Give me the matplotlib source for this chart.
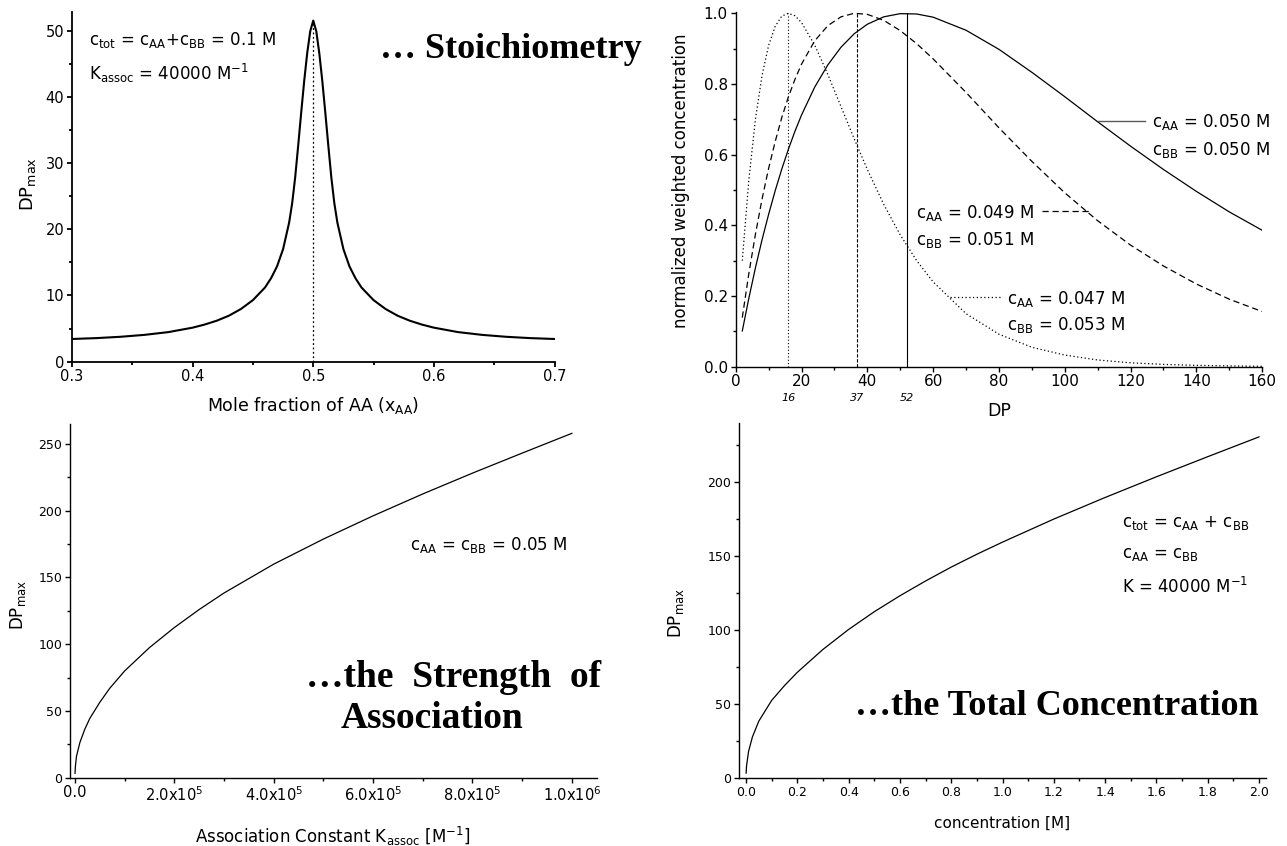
import matplotlib
matplotlib.use("Agg")
import matplotlib.pyplot as plt
from matplotlib.ticker import MultipleLocator, FixedLocator, FixedFormatter
from matplotlib.transforms import blended_transform_factory

plt.rcParams["font.family"] = "DejaVu Sans"
plt.rcParams["mathtext.fontset"] = "dejavusans"

# ---------------- data ----------------
# (a) DP_max versus mole fraction of AA
x_frac = [0.30, 0.32, 0.34, 0.36, 0.38, 0.40, 0.41, 0.42, 0.43, 0.44, 0.45, 0.46,
          0.465, 0.47, 0.475, 0.48, 0.4825, 0.485, 0.4875, 0.49, 0.4925, 0.495,
          0.4975, 0.50, 0.5025, 0.505, 0.5075, 0.51, 0.5125, 0.515, 0.5175, 0.52,
          0.525, 0.53, 0.535, 0.54, 0.55, 0.56, 0.57, 0.58, 0.59, 0.60, 0.62,
          0.64, 0.66, 0.68, 0.70]
dp_frac = [3.43, 3.56, 3.76, 4.05, 4.47, 5.14, 5.61, 6.19, 6.94, 7.95, 9.3, 11.2,
           12.6, 14.4, 17.0, 21.0, 23.9, 27.8, 32.6, 37.6, 42.4, 46.6,
           49.9, 51.5, 49.9, 46.6, 42.4, 37.6, 32.6, 27.8, 23.9, 21.0,
           17.0, 14.4, 12.6, 11.2, 9.3, 7.95, 6.94, 6.19, 5.61, 5.14, 4.47,
           4.05, 3.76, 3.56, 3.43]

# (b) normalized weighted chain-length distributions
dp_axis = [2, 4, 6, 8, 10, 12, 14, 16, 18, 20, 24, 28, 32, 36, 40, 45, 50, 55,
           60, 70, 80, 90, 100, 110, 120, 130, 140, 150, 160]
w_050 = [0.101, 0.194, 0.280, 0.359, 0.431, 0.498, 0.559, 0.615, 0.666, 0.712,
         0.791, 0.854, 0.904, 0.942, 0.969, 0.990, 0.999, 0.998, 0.989, 0.952,
         0.898, 0.833, 0.764, 0.693, 0.624, 0.558, 0.496, 0.438, 0.386]
w_049 = [0.139, 0.264, 0.375, 0.474, 0.561, 0.637, 0.705, 0.763, 0.813, 0.856,
         0.922, 0.965, 0.990, 1.000, 0.997, 0.980, 0.951, 0.914, 0.871, 0.776,
         0.676, 0.581, 0.492, 0.413, 0.344, 0.285, 0.234, 0.191, 0.156]
w_047 = [0.300, 0.529, 0.701, 0.824, 0.909, 0.963, 0.992, 1.000, 0.993, 0.974,
         0.910, 0.827, 0.736, 0.645, 0.558, 0.459, 0.373, 0.300, 0.240, 0.150,
         0.092, 0.055, 0.033, 0.019, 0.011, 0.0065, 0.0038, 0.0022, 0.0012]
peak_dp = [16, 37, 52]
peak_height = 1.0

# (c) DP_max versus association constant
k_assoc = [100, 1e3, 3e3, 1e4, 2e4, 3e4, 5e4, 7e4, 1e5, 1.5e5, 2e5, 2.5e5, 3e5,
           4e5, 5e5, 6e5, 7e5, 8e5, 9e5, 1e6]
dp_k = [3.3, 9.0, 16.0, 26.5, 36.5, 44.5, 56.5, 67.0, 80.0, 97.5, 112.5, 126.0,
        138.4, 160.0, 178.8, 196.2, 212.6, 228.2, 243.2, 258.0]
k_ticks = [0, 2e5, 4e5, 6e5, 8e5, 1e6]
k_labels = ["0.0", "2.0x10$^5$", "4.0x10$^5$", "6.0x10$^5$", "8.0x10$^5$", "1.0x10$^6$"]

# (d) DP_max versus total concentration
conc = [0.0005, 0.002, 0.01, 0.025, 0.05, 0.1, 0.15, 0.2, 0.3, 0.4, 0.5, 0.6,
        0.7, 0.8, 0.9, 1.0, 1.2, 1.4, 1.6, 1.8, 2.0]
dp_conc = [3.3, 8.0, 18.0, 27.8, 38.5, 52.5, 62.5, 71.5, 87.0, 100.5, 112.5,
           123.3, 133.3, 142.7, 151.4, 159.6, 175.2, 189.8, 203.8, 217.4, 230.8]

# ---------------- figure ----------------
W, H = 1287, 846
fig = plt.figure(figsize=(W / 100, H / 100), dpi=100)
fig.patch.set_facecolor("white")

SERIF = dict(family="Liberation Serif", weight="bold")


def panel(left, top, right, bottom, labelsize, lw=1.0):
    ax = fig.add_axes([left / W, 1 - bottom / H, (right - left) / W, (bottom - top) / H])
    for s in ("top", "right"):
        ax.spines[s].set_visible(False)
    for s in ("left", "bottom"):
        ax.spines[s].set_linewidth(lw)
    ax.tick_params(which="major", direction="out", length=3.8, width=lw,
                   labelsize=labelsize, pad=1.8)
    ax.tick_params(which="minor", direction="out", length=2.2, width=lw)
    return ax


def label(x, y, s, **kw):
    fig.text(x / W, 1 - y / H, s, **kw)


def fixed_ticks(axis, values, texts):
    axis.set_major_locator(FixedLocator(values))
    axis.set_major_formatter(FixedFormatter(texts))


# (a)
ax1 = panel(72, 12, 554.5, 361.7, 10.5, lw=1.3)
ax1.plot(x_frac, dp_frac, color="k", lw=1.5)
i_top = dp_frac.index(max(dp_frac))
ax1.plot([x_frac[i_top]] * 2, [0, dp_frac[i_top]], color="k", lw=0.9, ls=(0, (1.5, 2)))
ax1.set_xlim(0.3, 0.7)
ax1.set_ylim(0, 52.8)
fixed_ticks(ax1.xaxis, [0.3, 0.4, 0.5, 0.6, 0.7], ["0.3", "0.4", "0.5", "0.6", "0.7"])
ax1.xaxis.set_minor_locator(MultipleLocator(0.05))
ax1.yaxis.set_major_locator(MultipleLocator(10))
ax1.yaxis.set_minor_locator(MultipleLocator(5))
label(89, 45, r"c$_{\mathrm{tot}}$ = c$_{\mathrm{AA}}$+c$_{\mathrm{BB}}$ = 0.1 M",
      fontsize=12, va="baseline")
label(89, 80, r"K$_{\mathrm{assoc}}$ = 40000 M$^{\mathrm{-1}}$", fontsize=12, va="baseline")
label(380, 58, "\u2026 Stoichiometry", fontsize=26, va="baseline", **SERIF)
label(28, 184, r"DP$_{\mathrm{max}}$", rotation=90, ha="center", va="center", fontsize=13)
label(313, 405, r"Mole fraction of AA (x$_{\mathrm{AA}}$)", ha="center", va="center",
      fontsize=12.5)

# (b)
ax2 = panel(735.7, 11.7, 1262.2, 366.7, 11)
ax2.plot(dp_axis, w_050, color="k", lw=0.9)
ax2.plot(dp_axis, w_049, color="k", lw=0.9, ls=(0, (5, 3)))
ax2.plot(dp_axis, w_047, color="k", lw=0.9, ls=(0, (1, 2)))
peak_styles = [(0, (1, 2)), (0, (3, 1.5)), "-"]
for p, ls in zip(peak_dp, peak_styles):
    ax2.plot([p, p], [0, peak_height], color="k", lw=0.8, ls=ls)
ax2.plot([110, 124.5], [0.695, 0.695], color="0.35", lw=1.0)
ax2.plot([93, 108], [0.44, 0.44], color="k", lw=0.9, ls=(0, (5, 3)))
ax2.plot([65, 80.5], [0.198, 0.198], color="k", lw=0.9, ls=(0, (1, 2)))
ax2.set_xlim(0, 160)
ax2.set_ylim(0, 1.0045)
ax2.xaxis.set_major_locator(MultipleLocator(20))
ax2.xaxis.set_minor_locator(MultipleLocator(10))
fixed_ticks(ax2.yaxis, [0, 0.2, 0.4, 0.6, 0.8, 1.0], ["0.0", "0.2", "0.4", "0.6", "0.8", "1.0"])
ax2.yaxis.set_minor_locator(MultipleLocator(0.1))
blend = blended_transform_factory(ax2.transData, ax2.transAxes)
for p in peak_dp:
    ax2.text(p, -0.088, str(p), transform=blend, ha="center", va="center",
             fontsize=8, style="italic")
label(1151.6, 126.7, r"c$_{\mathrm{AA}}$ = 0.050 M", fontsize=12, va="baseline")
label(1151.6, 155, r"c$_{\mathrm{BB}}$ = 0.050 M", fontsize=12, va="baseline")
label(916.5, 218.3, r"c$_{\mathrm{AA}}$ = 0.049 M", fontsize=12, va="baseline")
label(916.5, 245, r"c$_{\mathrm{BB}}$ = 0.051 M", fontsize=12, va="baseline")
label(1007.2, 304, r"c$_{\mathrm{AA}}$ = 0.047 M", fontsize=12, va="baseline")
label(1007.2, 330, r"c$_{\mathrm{BB}}$ = 0.053 M", fontsize=12, va="baseline")
label(681, 181, "normalized weighted concentration", rotation=90, ha="center",
      va="center", fontsize=12)
label(999, 411, "DP", ha="center", va="center", fontsize=12.5)

# (c)
ax3 = panel(70, 424, 596.7, 777.7, 9)
ax3.plot(k_assoc, dp_k, color="k", lw=0.9)
ax3.set_xlim(-1.0e4, 1.05e6)
ax3.set_ylim(0, 265)
fixed_ticks(ax3.xaxis, k_ticks, k_labels)
ax3.tick_params(axis="x", labelsize=10.5)
ax3.xaxis.set_minor_locator(MultipleLocator(1e5))
ax3.yaxis.set_major_locator(MultipleLocator(50))
ax3.yaxis.set_minor_locator(MultipleLocator(25))
label(410, 550, r"c$_{\mathrm{AA}}$ = c$_{\mathrm{BB}}$ = 0.05 M", fontsize=12, va="baseline")
label(306, 686.7, "\u2026the  Strength  of", fontsize=27, va="baseline", **SERIF)
label(341, 728.3, "Association", fontsize=27, va="baseline", **SERIF)
label(18, 605, r"DP$_{\mathrm{max}}$", rotation=90, ha="center", va="center", fontsize=12)
label(333, 836, r"Association Constant K$_{\mathrm{assoc}}$ [M$^{\mathrm{-1}}$]",
      ha="center", va="center", fontsize=12)

# (d)
ax4 = panel(739, 423.3, 1266, 778, 9)
ax4.plot(conc, dp_conc, color="k", lw=0.9)
ax4.set_xlim(-0.0273, 2.0273)
ax4.set_ylim(0, 240)
fixed_ticks(ax4.xaxis, [0, 0.2, 0.4, 0.6, 0.8, 1.0, 1.2, 1.4, 1.6, 1.8, 2.0],
            ["0.0", "0.2", "0.4", "0.6", "0.8", "1.0", "1.2", "1.4", "1.6", "1.8", "2.0"])
ax4.xaxis.set_minor_locator(MultipleLocator(0.1))
ax4.yaxis.set_major_locator(MultipleLocator(50))
ax4.yaxis.set_minor_locator(MultipleLocator(25))
label(1121.7, 526.7, r"c$_{\mathrm{tot}}$ = c$_{\mathrm{AA}}$ + c$_{\mathrm{BB}}$",
      fontsize=12, va="baseline")
label(1121.7, 558.3, r"c$_{\mathrm{AA}}$ = c$_{\mathrm{BB}}$", fontsize=12, va="baseline")
label(1121.7, 593.3, r"K = 40000 M$^{\mathrm{-1}}$", fontsize=12, va="baseline")
label(854.6, 715, "\u2026the Total Concentration", fontsize=26, va="baseline", **SERIF)
label(676, 613, r"DP$_{\mathrm{max}}$", rotation=90, ha="center", va="center", fontsize=12)
label(1002, 823, "concentration [M]", ha="center", va="center", fontsize=11)

fig.savefig("out.png", dpi=100)
